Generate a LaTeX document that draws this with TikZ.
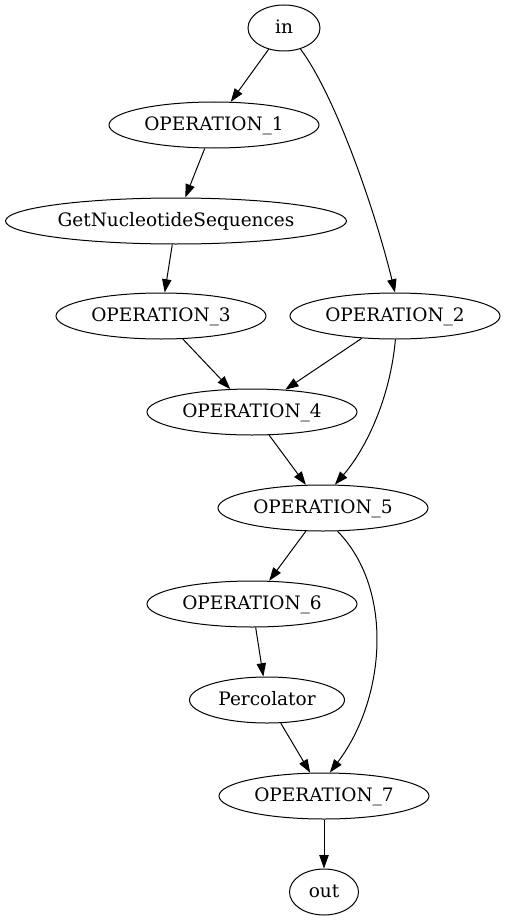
\documentclass[tikz,border=0pt]{standalone}
\usepackage{fontspec}
\setmainfont{DejaVu Serif}
\usetikzlibrary{arrows.meta,shapes.geometric}
\newcommand\zw[1]{\makebox[0pt]{#1}}
\begin{document}
\begin{tikzpicture}[x=1pt,y=-1pt,
  gnode/.style={ellipse,draw,line width=1pt,inner sep=0pt,minimum height=46pt,text height=14pt,text depth=3pt,font=\fontsize{18.5}{22}\selectfont},
  gedge/.style={line width=1pt,-{Triangle[length=13.3pt,width=9.3pt]}}]
\useasboundingbox (0,0) rectangle (505,923);
\node[gnode,minimum width=72pt] (in) at (284,28) {\zw{in}};
\node[gnode,minimum width=210pt] (op1) at (214,125) {\zw{OPERATION\_1}};
\node[gnode,minimum width=341pt] (gns) at (176,221) {\zw{GetNucleotideSequences}};
\node[gnode,minimum width=210pt] (op3) at (161,316) {\zw{OPERATION\_3}};
\node[gnode,minimum width=210pt] (op2) at (395,316) {\zw{OPERATION\_2}};
\node[gnode,minimum width=210pt] (op4) at (252,412) {\zw{OPERATION\_4}};
\node[gnode,minimum width=210pt] (op5) at (323,508) {\zw{OPERATION\_5}};
\node[gnode,minimum width=210pt] (op6) at (252,604) {\zw{OPERATION\_6}};
\node[gnode,minimum width=155pt] (perc) at (267,700) {\zw{Percolator}};
\node[gnode,minimum width=210pt] (op7) at (324,796) {\zw{OPERATION\_7}};
\node[gnode,minimum width=69pt] (out) at (324,892) {\zw{out}};
\draw[gedge] (in) -- (op1);
\draw[gedge] (in.-52) .. controls (335,95) and (375,210) .. (op2.north);
\draw[gedge] (op1) -- (gns);
\draw[gedge] (gns) -- (op3);
\draw[gedge] (op3) -- (op4);
\draw[gedge] (op2) -- (op4);
\draw[gedge] (op2.-89) .. controls (390,400) and (365,450) .. (op5.63);
\draw[gedge] (op4) -- (op5);
\draw[gedge] (op5) -- (op6);
\draw[gedge] (op5.-58) .. controls (395,590) and (385,700) .. (op7.76);
\draw[gedge] (op6) -- (perc);
\draw[gedge] (perc) -- (op7);
\draw[gedge] (op7) -- (out);
\end{tikzpicture}
\end{document}
